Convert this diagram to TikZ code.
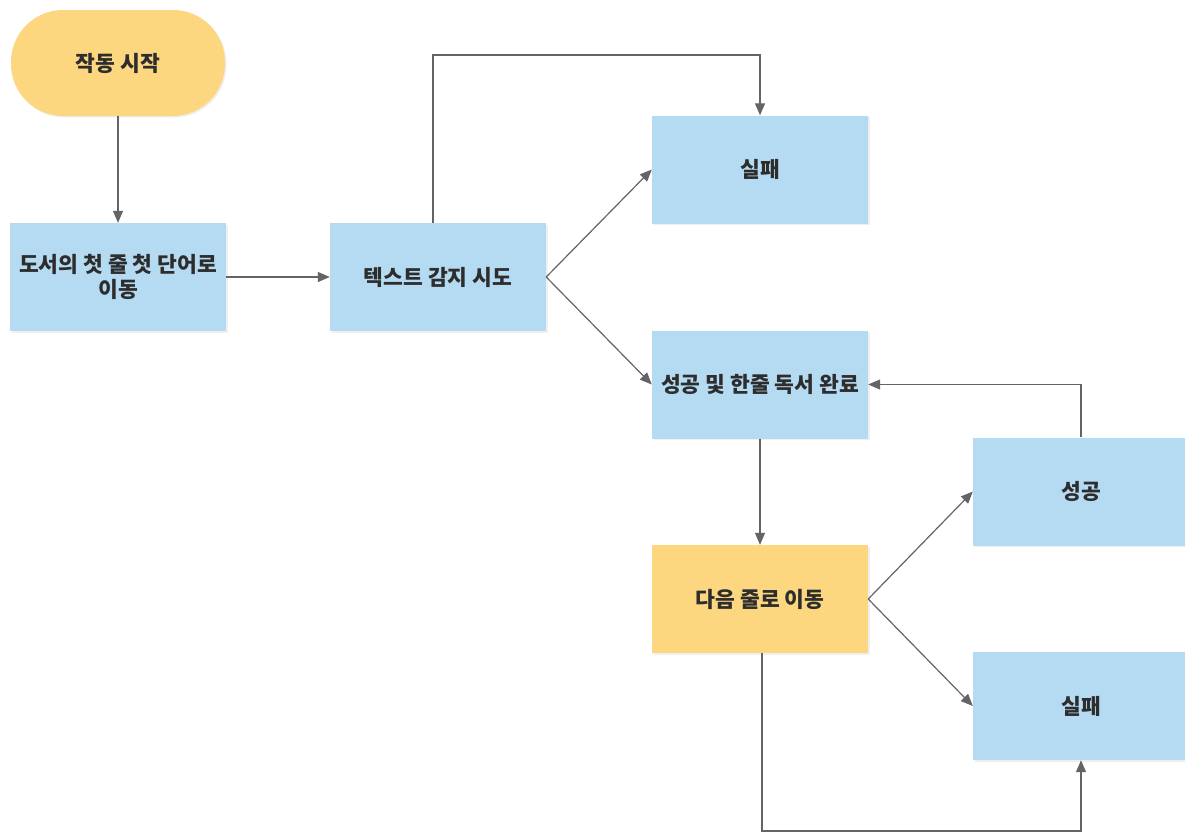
\documentclass[tikz,border=0pt]{standalone}
\usepackage{fontspec}
\setmainfont{Noto Sans CJK KR}
\usetikzlibrary{arrows.meta,shadows}
\definecolor{boxblue}{RGB}{181,219,243}
\definecolor{boxyellow}{RGB}{253,214,128}
\definecolor{linegray}{RGB}{100,100,100}
\definecolor{txt}{RGB}{45,45,45}
\begin{document}
\begin{tikzpicture}[x=1pt,y=-1pt,
  base/.style={minimum width=216pt,minimum height=108pt,inner sep=2pt,
    text=txt,align=center,font=\fontsize{21.5}{25}\selectfont\bfseries,
    drop shadow={opacity=0.12,shadow xshift=1.5pt,shadow yshift=-1.5pt}},
  bluebox/.style={base,fill=boxblue},
  yellowbox/.style={base,fill=boxyellow},
  terminal/.style={base,fill=boxyellow,minimum width=214pt,minimum height=106pt,rounded corners=52pt},
  flow/.style={draw=linegray,line width=1.2pt,-{Triangle[length=12pt,width=10pt]}}]
\useasboundingbox[fill=white] (0,0) rectangle (1185,833);

% nodes
\node[terminal]  (start) at (118,63)  {작동 시작};
\node[bluebox]   (first) at (118,277) {도서의 첫 줄 첫 단어로\\이동};
\node[bluebox]   (detect) at (438,277) {텍스트 감지 시도};
\node[bluebox]   (failA) at (760,169.5) {실패};
\node[bluebox]   (done) at (760,384.5) {성공 및 한줄 독서 완료};
\node[yellowbox] (next) at (760,599) {다음 줄로 이동};
\node[bluebox]   (succ) at (1081,491.5) {성공};
\node[bluebox]   (failB) at (1081,706) {실패};

% connectors
\draw[flow] (start.south) -- (first.north);
\draw[flow] (first.east) -- (detect.west);
\draw[flow] ([xshift=-5pt]detect.north) -- ([xshift=-5pt]detect.north |- 0,55) -| (failA.north);
\draw[flow] (detect.east) -- (failA.west);
\draw[flow] (detect.east) -- (done.west);
\draw[flow] (done.south) -- (next.north);
\draw[flow] (next.east) -- (succ.west);
\draw[flow] (next.east) -- (failB.west);
\draw[flow] (succ.north) |- (done.east);
\draw[flow] ([xshift=2pt]next.south) -- ([xshift=2pt]next.south |- 0,831) -| (failB.south);
\end{tikzpicture}
\end{document}
